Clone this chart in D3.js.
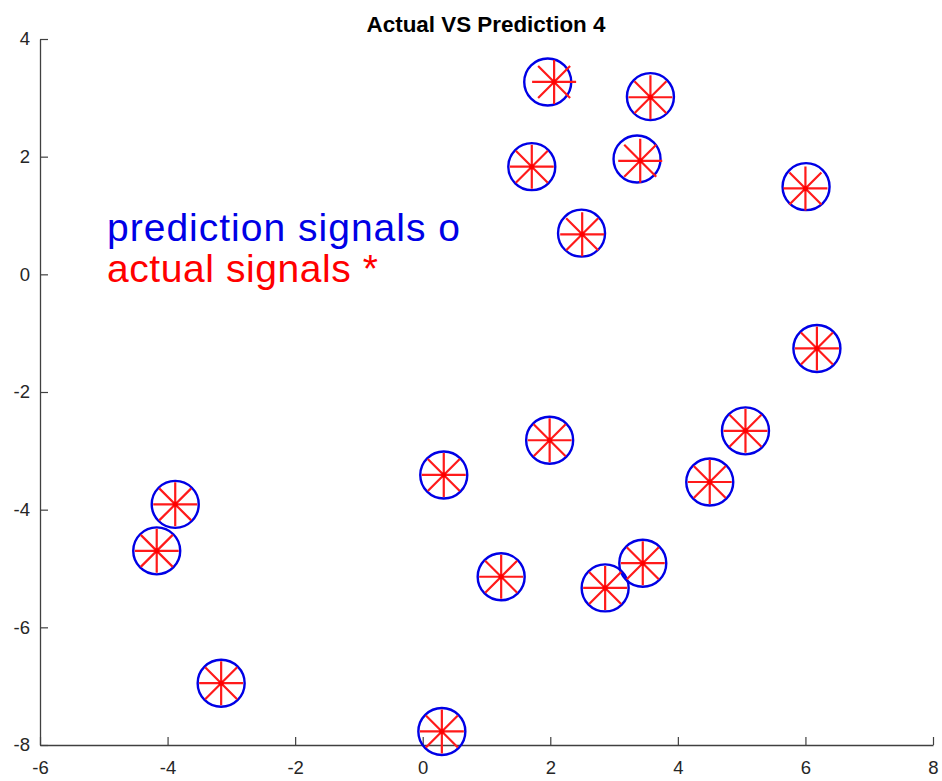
<!DOCTYPE html>
<html>
<head>
<meta charset="utf-8">
<script src="https://cdn.jsdelivr.net/npm/d3@7"></script>
<style>
  body { margin: 0; background: #fff; }
  svg { display: block; font-family: "Liberation Sans", Arial, Helvetica, sans-serif; }
</style>
</head>
<body>
<div id="chart"></div>
<script>
// predictions (blue circles) and actual signals (red asterisks)
const predX   = [1.96, 3.57, 1.71, 3.36, 2.49, 6.01, -3.16, 0.30, -3.88, -4.17, 0.33, 1.23, 1.99, 5.06, 4.50, 3.45, 2.86, 6.18];
const predY   = [3.27, 3.02, 1.83, 1.96, 0.70, 1.49, -6.95, -7.77, -3.91, -4.70, -3.41, -5.14, -2.82, -2.66, -3.53, -4.91, -5.33, -1.26];
const actualX = [2.06, 3.57, 1.71, 3.41, 2.50, 6.00, -3.16, 0.30, -3.88, -4.17, 0.33, 1.23, 1.99, 5.06, 4.50, 3.45, 2.86, 6.18];
const actualY = [3.27, 3.01, 1.83, 1.93, 0.68, 1.46, -6.95, -7.77, -3.91, -4.70, -3.41, -5.14, -2.82, -2.66, -3.53, -4.91, -5.33, -1.26];

const xTicks = [-6, -4, -2, 0, 2, 4, 6, 8];
const yTicks = [-8, -6, -4, -2, 0, 2, 4];

const width = 942, height = 781;
const axisColor = "#404040";

const svg = d3.select("#chart").append("svg")
    .attr("width", width)
    .attr("height", height);

const x = d3.scaleLinear().domain([-6, 8]).range([40, 933]);
const y = d3.scaleLinear().domain([-8, 4]).range([745, 39]);

const fmt = d => String(d); // plain hyphen minus like matlab

// axes (MATLAB style: box off, ticks pointing inward)
const xAxis = svg.append("g")
    .attr("transform", "translate(0," + y(-8) + ")")
    .call(d3.axisBottom(x).tickValues(xTicks).tickFormat(fmt).tickSizeInner(-8).tickSizeOuter(0).tickPadding(16));
const yAxis = svg.append("g")
    .attr("transform", "translate(" + x(-6) + ",0)")
    .call(d3.axisLeft(y).tickValues(yTicks).tickFormat(fmt).tickSizeInner(-8).tickSizeOuter(0).tickPadding(10));

[xAxis, yAxis].forEach(a => {
  a.select(".domain").attr("stroke", axisColor).attr("stroke-width", 1.3);
  a.selectAll(".tick line").attr("stroke", axisColor).attr("stroke-width", 1.2);
  a.selectAll(".tick text")
      .attr("fill", "#262626")
      .style("font-size", "18.5px")
      .style("font-family", "'Liberation Sans', Arial, sans-serif");
});

// title
svg.append("text")
    .attr("x", 486)
    .attr("y", 32)
    .attr("text-anchor", "middle")
    .style("font-size", "22.4px")
    .style("font-weight", "bold")
    .attr("fill", "#000")
    .text("Actual VS Prediction 4");

// annotation text
svg.append("text")
    .attr("x", 107)
    .attr("y", 241)
    .attr("fill", "#0000e6")
    .style("font-size", "39px")
    .attr("textLength", 353)
    .attr("lengthAdjust", "spacing")
    .text("prediction signals o");
svg.append("text")
    .attr("x", 107)
    .attr("y", 282)
    .attr("fill", "#ff0000")
    .style("font-size", "39px")
    .attr("textLength", 271)
    .attr("lengthAdjust", "spacing")
    .text("actual signals *");

// prediction circles
const pred = predX.map((v, i) => ({x: v, y: predY[i]}));
svg.append("g")
  .selectAll("circle")
  .data(pred)
  .join("circle")
    .attr("cx", d => x(d.x))
    .attr("cy", d => y(d.y))
    .attr("r", 23.5)
    .attr("fill", "none")
    .attr("stroke", "#0000e6")
    .attr("stroke-width", 2.4);

// actual asterisks: plus + cross
const actual = actualX.map((v, i) => ({x: v, y: actualY[i]}));
const R = 22, D = 16;
const star = "M" + (-R) + ",0L" + R + ",0M0," + (-R) + "L0," + R +
             "M" + (-D) + "," + (-D) + "L" + D + "," + D +
             "M" + (-D) + "," + D + "L" + D + "," + (-D);
const stars = svg.append("g")
  .selectAll("g")
  .data(actual)
  .join("g")
    .attr("transform", d => "translate(" + x(d.x) + "," + y(d.y) + ")");
stars.append("path")
    .attr("d", star)
    .attr("fill", "none")
    .attr("stroke", "#ff1a1a")
    .attr("stroke-width", 2.2);
stars.append("circle")
    .attr("r", 2.5)
    .attr("fill", "#ff0000");
</script>
</body>
</html>
